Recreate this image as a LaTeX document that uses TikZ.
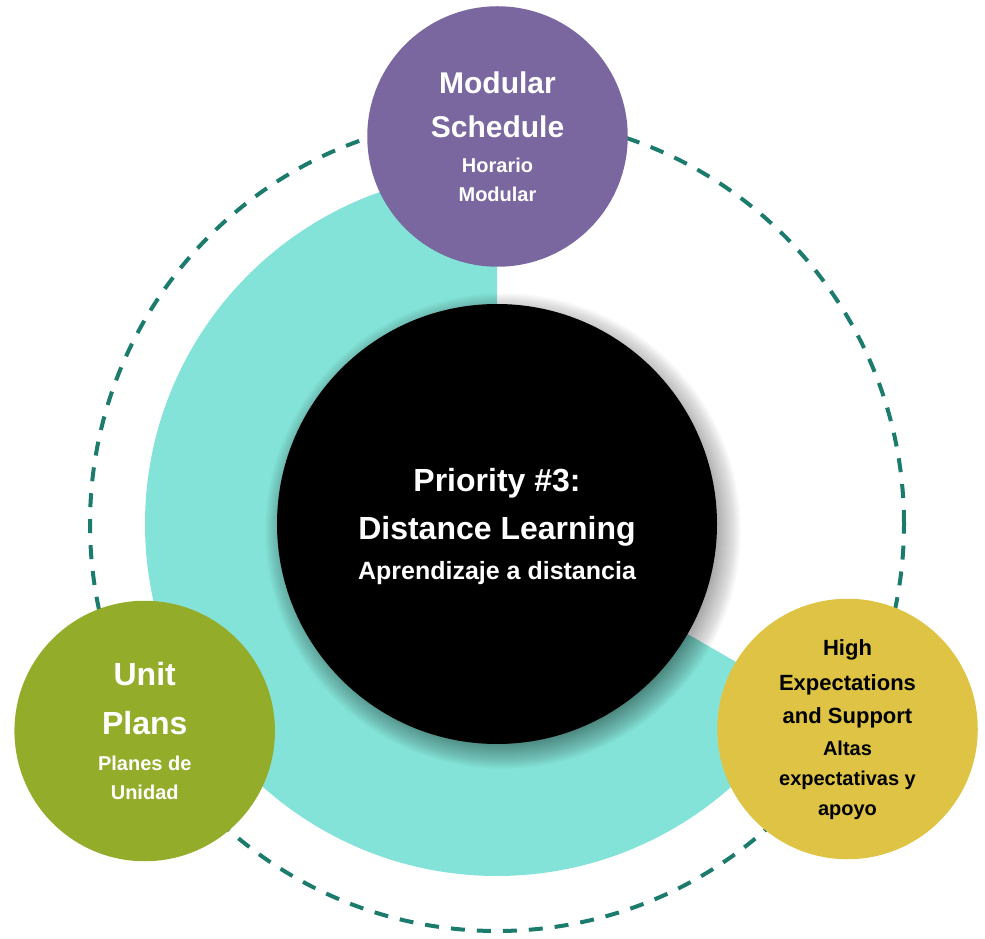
\documentclass[tikz,border=0pt]{standalone}
\usepackage{fontspec}
\setmainfont{Liberation Sans}
\definecolor{ringcol}{HTML}{84E3D8}
\definecolor{dashteal}{HTML}{1B7B6C}
\definecolor{purplecol}{HTML}{7A67A0}
\definecolor{greencol}{HTML}{93AD2A}
\definecolor{yellowcol}{HTML}{DEC344}
\begin{document}
\begin{tikzpicture}[x=1pt,y=1pt,
  bubble/.style={circle, minimum size=260.5pt, inner sep=0pt},
  txt/.style={anchor=base, inner sep=0pt, font=\bfseries},
  fs/.style={font=\bfseries\fontsize{#1}{#1}\selectfont}]
\useasboundingbox (0,0) rectangle (985,938);
\coordinate (c) at (497,414);
\coordinate (sh) at (503,407);
\draw[dashteal, line width=4pt, dash pattern=on 14pt off 12pt] (c) circle[radius=407];
\fill[ringcol] (c) -- ++(90:352) arc[start angle=90,end angle=330,radius=352] -- cycle;
% soft shadow of the centre circle
\foreach \r in {0,...,26}
  \fill[black, opacity=0.017] (sh) circle[radius=212+\r];
\node[circle, fill=black, minimum size=440pt, inner sep=0pt] (core) at (c) {};
\node[bubble, fill=purplecol] (mod) at (497.5,801.5) {};
\node[bubble, fill=greencol] (unit) at (144.7,207) {};
\node[bubble, fill=yellowcol] (high) at (847.5,209) {};
% center text
\node[txt, fs=32, white] (t1) at (497,446.3) {Priority \#3:};
\node[txt, fs=32, white] (t2) at (497,398) {Distance Learning};
\node[txt, fs=25, white] (t3) at (497,359) {Aprendizaje a distancia};
% purple
\node[txt, fs=30, white] (m1) at (497.5,844) {Modular};
\node[txt, fs=30, white] (m2) at (497.5,800.3) {Schedule};
\node[txt, fs=20, white] (m3) at (497.5,765.3) {Horario};
\node[txt, fs=20, white] (m4) at (497.5,736.3) {Modular};
% green
\node[txt, fs=32, white] (u1) at (144.7,252.3) {Unit};
\node[txt, fs=32, white] (u2) at (144.7,204) {Plans};
\node[txt, fs=20, white] (u3) at (144.7,168) {Planes de};
\node[txt, fs=20, white] (u4) at (144.7,138.7) {Unidad};
% yellow
\node[txt, fs=22, black] (h1) at (847.5,282.3) {High};
\node[txt, fs=22, black] (h2) at (847.5,248) {Expectations};
\node[txt, fs=22, black] (h3) at (847.5,214.7) {and Support};
\node[txt, fs=20, black] (h4) at (847.5,182.3) {Altas};
\node[txt, fs=20, black] (h5) at (847.5,153) {expectativas y};
\node[txt, fs=20, black] (h6) at (847.5,123) {apoyo};
\end{tikzpicture}
\end{document}
